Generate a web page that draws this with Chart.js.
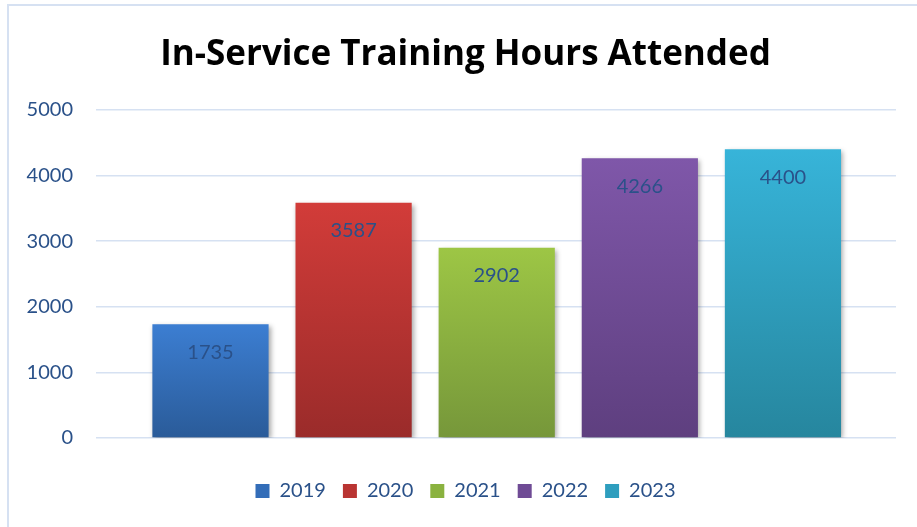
<!DOCTYPE html>
<html>
<head>
<meta charset="utf-8">
<script src="https://cdn.jsdelivr.net/npm/chart.js@4"></script>
<style>
  html, body { margin: 0; padding: 0; background: #ffffff; overflow: hidden; }
  #wrap { position: relative; width: 917px; height: 527px; }
  #frame { position: absolute; left: 7px; top: 4px; width: 960px; height: 580px; border: 2px solid #D6E1F2; box-sizing: border-box; }
  #c { position: absolute; left: 0; top: 0; }
</style>
</head>
<body>
<div id="wrap">
  <div id="frame"></div>
  <canvas id="c" width="917" height="527"></canvas>
</div>
<script>
// ---- data ----
const chartTitle = 'In-Service Training Hours Attended';
const categories = ['2019', '2020', '2021', '2022', '2023'];
const hours = [1735, 3587, 2902, 4266, 4400];
const yTickValues = [0, 1000, 2000, 3000, 4000, 5000];

// ---- styles ----
const topColors    = ['#3C7ED2', '#D23C39', '#9DC645', '#7F57A9', '#37B4D9'];
const bottomColors = ['#2A5B99', '#9A2B2A', '#76973A', '#5E3F7F', '#26869E'];
const legendColors = ['#336DB8', '#B93432', '#8AB23F', '#6F4B95', '#2E9EBE'];
const textBlue = '#2A5189';
const labelFont = { family: 'Lato, "Open Sans", sans-serif', size: 20 };

const barData = categories.map((c, i) => ({ x: i, y: hours[i] }));

function barGradient(ctx) {
  const chart = ctx.chart;
  const i = ctx.dataIndex;
  if (!chart.chartArea || ctx.type !== 'data') return legendColors[i] || '#888';
  const ys = chart.scales.y;
  const top = ys.getPixelForValue(ctx.raw.y);
  const bottom = ys.getPixelForValue(0);
  const g = chart.ctx.createLinearGradient(0, top, 0, bottom);
  g.addColorStop(0, topColors[i]);
  g.addColorStop(1, bottomColors[i]);
  return g;
}

const shadowPlugin = {
  id: 'barShadow',
  beforeDatasetsDraw(chart) {
    const c = chart.ctx;
    c.save();
    c.shadowColor = 'rgba(0,0,0,0.35)';
    c.shadowBlur = 5;
    c.shadowOffsetX = 2;
    c.shadowOffsetY = 2;
  },
  afterDatasetsDraw(chart) {
    chart.ctx.restore();
  }
};

const valueLabelPlugin = {
  id: 'valueLabels',
  afterDatasetsDraw(chart) {
    const c = chart.ctx;
    const meta = chart.getDatasetMeta(0);
    c.save();
    c.font = labelFont.size + 'px ' + labelFont.family;
    c.fillStyle = textBlue;
    c.textAlign = 'center';
    c.textBaseline = 'middle';
    meta.data.forEach((bar, i) => {
      c.fillText(String(hours[i]), bar.x, bar.y + 28);
    });
    c.restore();
  }
};

new Chart(document.getElementById('c'), {
  type: 'bar',
  data: {
    datasets: [{
      data: barData,
      backgroundColor: barGradient,
      borderWidth: 0,
      categoryPercentage: 1,
      barPercentage: 0.812
    }]
  },
  plugins: [shadowPlugin, valueLabelPlugin],
  options: {
    responsive: false,
    animation: false,
    devicePixelRatio: 1,
    layout: { padding: { left: 24, right: 10, top: 10, bottom: 16 } },
    plugins: {
      tooltip: { enabled: false },
      title: {
        display: true,
        text: chartTitle,
        color: '#000000',
        font: { family: '"Open Sans", Lato, sans-serif', size: 35, weight: 'bold' },
        padding: { top: 24, bottom: 34 }
      },
      legend: {
        display: true,
        position: 'bottom',
        labels: {
          color: textBlue,
          font: labelFont,
          boxWidth: 14,
          boxHeight: 14,
          padding: 17,
          generateLabels: () => categories.map((c, i) => ({
            text: c,
            fillStyle: legendColors[i],
            strokeStyle: legendColors[i],
            lineWidth: 0,
            hidden: false,
            index: i,
            fontColor: textBlue
          }))
        }
      }
    },
    scales: {
      x: {
        type: 'linear',
        offset: false,
        min: -0.80,
        max: 4.79,
        afterBuildTicks: (s) => { s.ticks = categories.map((c, i) => ({ value: i })); },
        afterFit: (s) => { s.height = 26; },
        grid: { display: false },
        border: { display: false },
        ticks: { display: false }
      },
      y: {
        min: 0,
        max: 5000,
        afterBuildTicks: (s) => { s.ticks = yTickValues.map(v => ({ value: v })); },
        afterFit: (s) => { s.width = 72; },
        grid: { color: '#D6E1F2', lineWidth: 1.5, drawTicks: false },
        border: { display: false },
        ticks: {
          color: textBlue,
          font: labelFont,
          padding: 23,
          callback: (v) => String(v)
        }
      },
      yPad: {
        position: 'right',
        min: 0,
        max: 5000,
        afterFit: (s) => { s.width = 11; },
        grid: { display: false },
        border: { display: false },
        ticks: { display: false }
      }
    }
  }
});
</script>
</body>
</html>
